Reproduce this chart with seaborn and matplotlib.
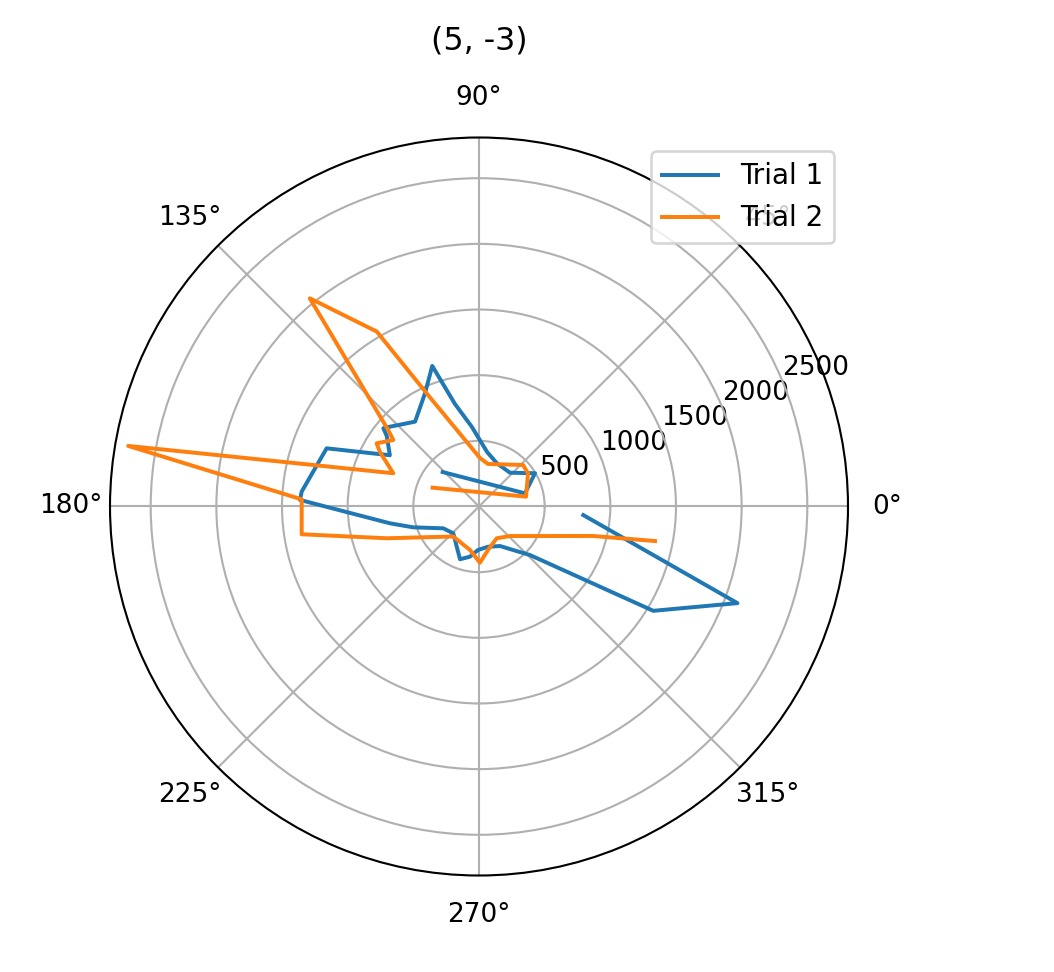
"""Polar plot of two trials at position (5, -3)."""

import numpy as np
import seaborn as sns
from matplotlib import pyplot as plt

plt.switch_backend("Agg")

TITLE = "(5, -3)"

# Trial 1: angle (degrees) and reading
trial1_deg = [136.5, 16.0, 30.7, 47.5, 67.4, 81.6, 95.2, 103.2, 108.4, 115.5,
              127.0, 138.1, 140.7, 142.6, 150.1, 159.1, 175.2, 177.9, 190.7,
              197.6, 211.4, 226.2, 250.2, 259.8, 268.7, 282.6, 298.0, 308.0,
              316.4, 329.1, 339.5, 355.3]
trial1_r = [381, 364, 496, 349, 356, 420, 610, 802, 1128, 955,
            809, 910, 941, 884, 783, 1242, 1355, 1364, 690,
            525, 319, 283, 427, 388, 331, 314, 341, 420,
            536, 1547, 2101, 797]

# Trial 2
trial2_deg = [157.9, 11.8, 34.1, 43.3, 78.0, 88.8, 114.6, 120.3, 129.1, 139.9,
              142.2, 148.3, 151.2, 158.8, 170.2, 177.7, 188.9, 199.0, 229.4,
              258.3, 271.0, 281.7, 299.1, 316.4, 345.5, 348.9]
trial2_r = [381, 366, 451, 461, 331, 369, 935, 1543, 2043, 904,
            826, 916, 861, 700, 2711, 1351, 1367, 743, 301,
            338, 428, 338, 277, 326, 897, 1366]

R_MAX = 2810


def main() -> None:
    dpi = 190
    fig = plt.figure(figsize=(1054 / dpi, 972 / dpi), dpi=dpi)
    ax = fig.add_axes([110 / 1054, 96.5 / 972, 738 / 1054, 738 / 972], projection="polar")

    sns.lineplot(x=np.deg2rad(trial1_deg), y=trial1_r, sort=False, estimator=None,
                 color="tab:blue", linewidth=1.5, label="Trial 1", ax=ax)
    sns.lineplot(x=np.deg2rad(trial2_deg), y=trial2_r, sort=False, estimator=None,
                 color="tab:orange", linewidth=1.5, label="Trial 2", ax=ax)

    ax.set_ylim(0, R_MAX)
    ax.set_xlabel("")
    ax.set_ylabel("")
    ax.tick_params(axis="x", pad=4.5)
    ax.set_title(TITLE, pad=13.5)
    ax.legend(loc="upper right", fontsize=10.5)

    fig.savefig("out.png", dpi=dpi)
    plt.close(fig)


if __name__ == "__main__":
    main()
